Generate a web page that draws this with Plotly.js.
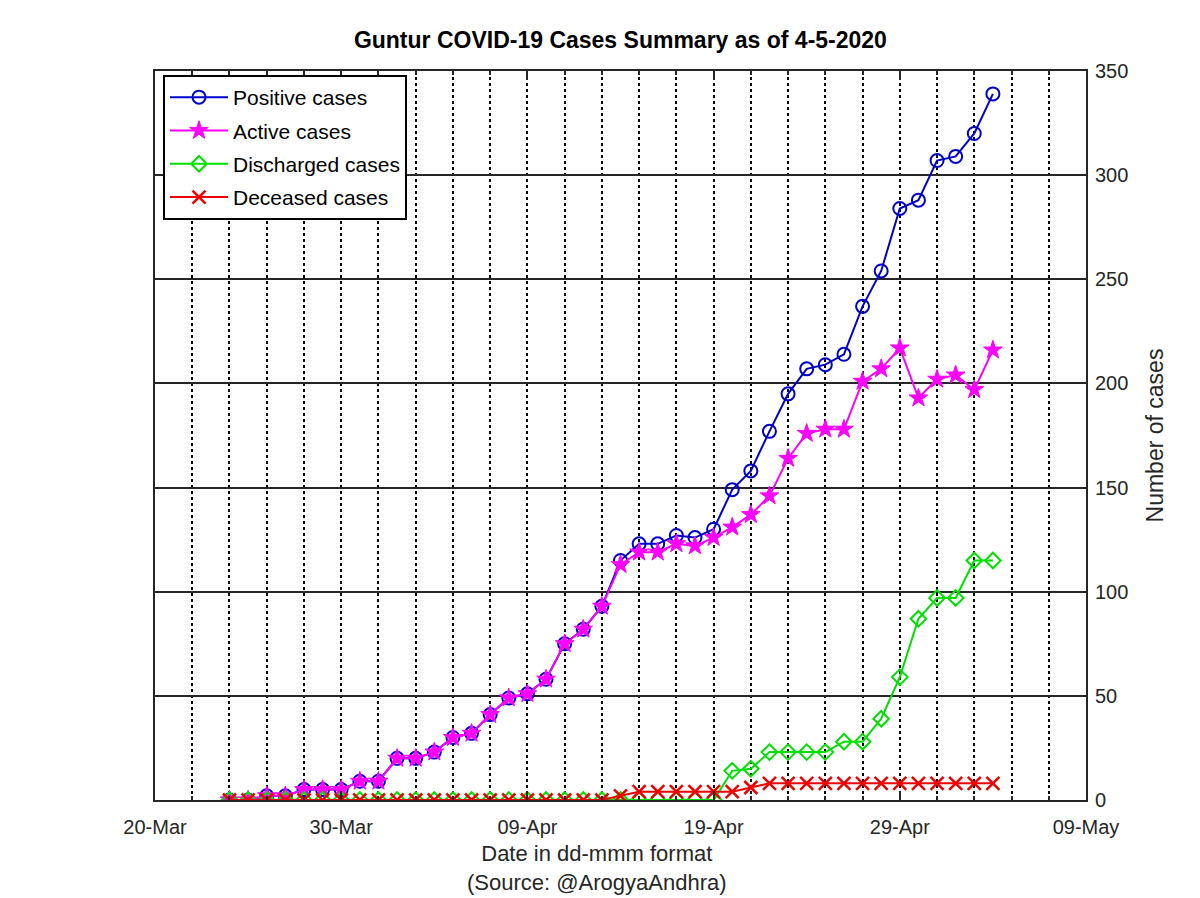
<!DOCTYPE html>
<html>
<head>
<meta charset="utf-8">
<script src="https://cdn.plot.ly/plotly-3.0.1.min.js"></script>
<style>html,body{margin:0;padding:0;background:#fff;}#chart{width:1200px;height:898px;}</style>
</head>
<body>
<div id="chart"></div>
<script>
const dates = [
  '2020-03-24','2020-03-25','2020-03-26','2020-03-27','2020-03-28','2020-03-29','2020-03-30','2020-03-31',
  '2020-04-01','2020-04-02','2020-04-03','2020-04-04','2020-04-05','2020-04-06','2020-04-07','2020-04-08',
  '2020-04-09','2020-04-10','2020-04-11','2020-04-12','2020-04-13','2020-04-14','2020-04-15','2020-04-16',
  '2020-04-17','2020-04-18','2020-04-19','2020-04-20','2020-04-21','2020-04-22','2020-04-23','2020-04-24',
  '2020-04-25','2020-04-26','2020-04-27','2020-04-28','2020-04-29','2020-04-30','2020-05-01','2020-05-02',
  '2020-05-03','2020-05-04'
];
const positive = [0,0,2,2,5,5,5,9, 9,20,20,23,30,32,41,49,51,58,75,82,93,115,123,123,127,126,130,149,158,177,195,207,209,214,237,254,284,288, 307,309,320,339];
const active   = [0,0,2,2,5,5,5,9, 9,20,20,23,30,32,41,49,51,58,75,82,93,113,119,119,123,122,126,131,137,146,164,176,178,178,201,207,217,193, 202,204,197,216];
const discharged = [0,0,0,0,0,0,0,0, 0,0,0,0,0,0,0,0,0,0,0,0,0,0,0,0,0,0,0,14,15,23,23,23,23,28,28,39,59,87, 97,97,115,115];
const deceased   = [0,0,0,0,0,0,0,0, 0,0,0,0,0,0,0,0,0,0,0,0,0,2,4,4,4,4,4,4,6,8,8,8,8,8,8,8,8,8, 8,8,8,8];
const seriesNames = ['Positive cases','Active cases','Discharged cases','Deceased cases'];
const yTicks = [0,50,100,150,200,250,300,350];

const FONT = 'Liberation Sans, Arial, Helvetica, sans-serif';
const DAY = 86400000;

const traces = [
  {x: dates, y: positive, name: seriesNames[0], mode: 'lines+markers', legendgroup: 'a',
   line: {color: '#0000cd', width: 2},
   marker: {symbol: 'circle-open', size: 13, color: '#0000cd', line: {width: 2, color: '#0000cd'}}},
  {x: dates, y: active, name: seriesNames[1], mode: 'lines+markers', legendgroup: 'b',
   line: {color: '#ff00ff', width: 2},
   marker: {symbol: 'star', size: 14, color: '#ff00ff', line: {width: 1, color: '#ff00ff'}}},
  {x: dates, y: discharged, name: seriesNames[2], mode: 'lines+markers', legendgroup: 'c',
   line: {color: '#00e000', width: 2},
   marker: {symbol: 'diamond-open', size: 12, color: '#00e000', line: {width: 2, color: '#00e000'}}},
  {x: dates, y: deceased, name: seriesNames[3], mode: 'lines+markers', legendgroup: 'd',
   line: {color: '#ee0000', width: 2},
   marker: {symbol: 'x-thin-open', size: 13, color: '#ee0000', line: {width: 2.5, color: '#ee0000'}}}
];

const layout = {
  width: 1200, height: 898,
  margin: {l: 155, r: 114, t: 71, b: 98},
  paper_bgcolor: '#fff', plot_bgcolor: '#fff',
  showlegend: true,
  title: {text: '<b>Guntur COVID-19 Cases Summary as of 4-5-2020</b>', x: 0.517, xanchor: 'center', y: 0.955, yanchor: 'middle',
          font: {family: FONT, size: 23, color: '#000'}},
  xaxis: {
    type: 'date', range: ['2020-03-20', '2020-05-09'],
    tick0: '2020-03-20', dtick: 10 * DAY, tickformat: '%d-%b',
    showgrid: true, gridcolor: '#000', gridwidth: 2, griddash: 'dot',
    minor: {tick0: '2020-03-20', dtick: 2 * DAY, showgrid: true, gridcolor: '#000', gridwidth: 2, griddash: 'dot',
            ticks: 'inside', ticklen: 4, tickcolor: '#262626'},
    showline: true, linecolor: '#262626', linewidth: 2, mirror: 'ticks',
    ticks: 'inside', ticklen: 9, tickwidth: 2, tickcolor: '#262626',
    ticklabelstandoff: 8,
    tickfont: {family: FONT, size: 20, color: '#262626'},
    zeroline: false, fixedrange: true
  },
  yaxis: {
    side: 'right', range: [0, 350], tickvals: yTicks, ticktext: yTicks.map(String),
    showgrid: true, gridcolor: '#262626', gridwidth: 2,
    showline: true, linecolor: '#262626', linewidth: 2, mirror: 'ticks',
    ticks: 'inside', ticklen: 9, tickwidth: 2, tickcolor: '#262626',
    ticklabelstandoff: 3,
    tickfont: {family: FONT, size: 20, color: '#262626'},
    title: {text: 'Number of cases', standoff: 20, font: {family: FONT, size: 23, color: '#262626'}},
    zeroline: false, fixedrange: true
  },
  legend: {
    x: 0.0086, y: 0.9945, xanchor: 'left', yanchor: 'top',
    bgcolor: '#fff', bordercolor: '#000', borderwidth: 2,
    font: {family: FONT, size: 21, color: '#000'},
    itemwidth: 58,
    tracegroupgap: 3, traceorder: 'grouped'
  },
  annotations: [
    {text: 'Date in dd-mmm format<br>(Source: @ArogyaAndhra)', xref: 'paper', yref: 'paper',
     x: 0.475, y: -0.054, xanchor: 'center', yanchor: 'top', showarrow: false,
     font: {family: FONT, size: 22, color: '#262626'}}
  ]
};

Plotly.newPlot('chart', traces, layout, {displayModeBar: false, staticPlot: true});
</script>
</body>
</html>
